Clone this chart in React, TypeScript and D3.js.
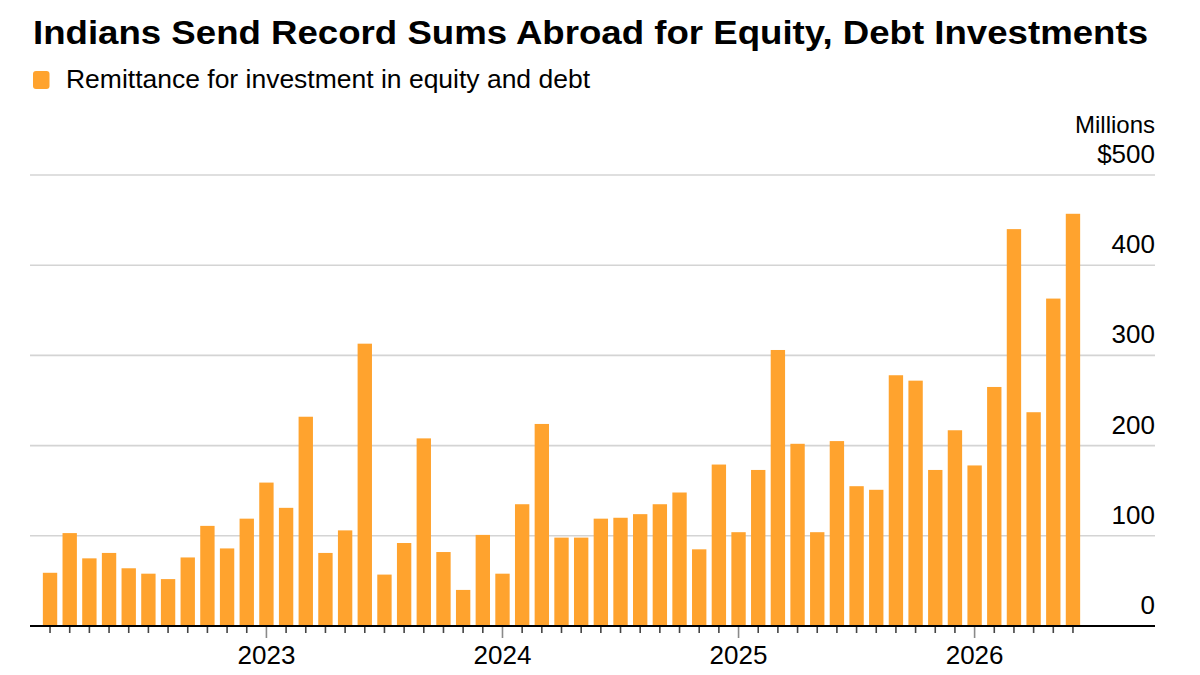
import React, { useEffect, useRef } from 'react';
import * as d3 from 'd3';

// Monthly remittance for investment in equity and debt, $ millions (Feb 2022 - Jun 2026)
const months: string[] = d3.timeMonth
    .range(new Date(2022, 1, 1), new Date(2026, 6, 1))
    .map(d => d3.timeFormat('%Y-%m')(d));

const remittance: number[] = [
    59, 103, 75, 81, 64, 58, 52, 76, 111, 86, 119,
    159, 131, 232, 81, 106, 313, 57, 92, 208, 82, 40, 101,
    58, 135, 224, 98, 98, 119, 120, 124, 135, 148, 85, 179,
    104, 173, 306, 202, 104, 205, 155, 151, 278, 272, 173, 217,
    178, 265, 440, 237, 363, 457
];

const yTicks: number[] = [0, 100, 200, 300, 400, 500];

const TITLE = 'Indians Send Record Sums Abroad for Equity, Debt Investments';
const LEGEND = 'Remittance for investment in equity and debt';
const ORANGE = '#FFA32E';
const FONT = '"Liberation Sans", Arial, Helvetica, sans-serif';

const App: React.FC = () => {
    const svgRef = useRef<SVGSVGElement>(null);
    const width = 1200;
    const height = 675;

    useEffect(() => {
        if (!svgRef.current) return;
        const svg = d3.select(svgRef.current);
        svg.selectAll('*').remove();

        const left = 30;
        const right = 1155;

        const x = d3.scaleBand<string>()
            .domain(months)
            .range([40.2, 1082.8])
            .paddingInner(0.27)
            .paddingOuter(0.135);

        const y = d3.scaleLinear()
            .domain([0, 500])
            .range([626, 175]);

        // Title (stretched to the source's wider rendering)
        svg.append('text')
            .attr('x', 33)
            .attr('y', 43.5)
            .attr('textLength', 1115)
            .attr('lengthAdjust', 'spacingAndGlyphs')
            .style('font-family', FONT)
            .style('font-weight', 'bold')
            .style('font-size', '33px')
            .style('fill', '#000')
            .text(TITLE);

        // Legend
        svg.append('rect')
            .attr('x', 33)
            .attr('y', 71)
            .attr('width', 16.5)
            .attr('height', 18)
            .attr('rx', 3)
            .attr('fill', ORANGE);

        svg.append('text')
            .attr('x', 66)
            .attr('y', 87.5)
            .attr('textLength', 524)
            .attr('lengthAdjust', 'spacingAndGlyphs')
            .style('font-family', FONT)
            .style('font-size', '26px')
            .style('fill', '#000')
            .text(LEGEND);

        // Gridlines
        svg.append('g')
            .selectAll('line')
            .data(yTicks.filter(t => t > 0))
            .join('line')
            .attr('x1', left)
            .attr('x2', right)
            .attr('y1', d => y(d))
            .attr('y2', d => y(d))
            .attr('stroke', '#d4d4d4')
            .attr('stroke-width', 1.6);

        // Y labels (right side, above the lines)
        svg.append('g')
            .selectAll('text')
            .data(yTicks)
            .join('text')
            .attr('x', right)
            .attr('y', d => y(d) - 12)
            .attr('text-anchor', 'end')
            .style('font-family', FONT)
            .style('font-size', '26px')
            .style('fill', '#000')
            .text(d => (d === 500 ? `$${d}` : `${d}`));

        svg.append('text')
            .attr('x', right)
            .attr('y', 133)
            .attr('text-anchor', 'end')
            .style('font-family', FONT)
            .style('font-size', '24px')
            .style('fill', '#000')
            .text('Millions');

        // Bars
        svg.append('g')
            .selectAll('rect')
            .data(remittance)
            .join('rect')
            .attr('x', (d, i) => x(months[i]) as number)
            .attr('y', d => y(d))
            .attr('width', x.bandwidth())
            .attr('height', d => y(0) - y(d))
            .attr('fill', ORANGE);

        // Month ticks
        const ticks = svg.append('g');
        months.forEach(m => {
            const cx = (x(m) as number) + x.bandwidth() / 2;
            const isYear = m.endsWith('-01');
            ticks.append('line')
                .attr('x1', cx)
                .attr('x2', cx)
                .attr('y1', y(0))
                .attr('y2', y(0) + (isYear ? 12 : 7))
                .attr('stroke', isYear ? '#8a8a8a' : '#444')
                .attr('stroke-width', 1.6);
            if (isYear) {
                ticks.append('text')
                    .attr('x', cx)
                    .attr('y', 664)
                    .attr('text-anchor', 'middle')
                    .style('font-family', FONT)
                    .style('font-size', '26px')
                    .style('fill', '#000')
                    .text(m.slice(0, 4));
            }
        });

        // Baseline
        svg.append('line')
            .attr('x1', left)
            .attr('x2', right)
            .attr('y1', y(0))
            .attr('y2', y(0))
            .attr('stroke', '#000')
            .attr('stroke-width', 2.2);
    }, []);

    return (
        <div style={{ position: 'absolute', left: 0, top: 0, background: '#fff' }}>
            <svg ref={svgRef} width={width} height={height} style={{ display: 'block' }} />
        </div>
    );
};

export default App;
